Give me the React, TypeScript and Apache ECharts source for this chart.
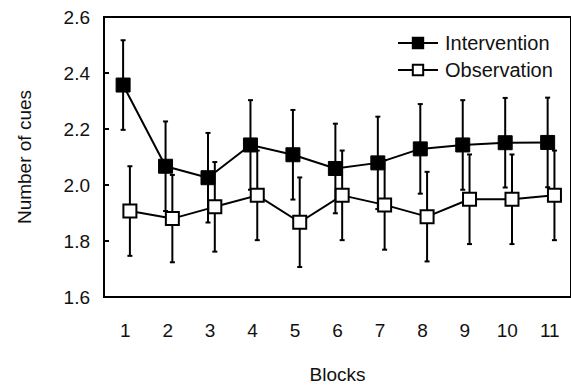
import React, { useEffect, useRef } from "react";
import * as echarts from "echarts";

const blocks = ["1", "2", "3", "4", "5", "6", "7", "8", "9", "10", "11"];
const interventionMean = [2.357, 2.067, 2.026, 2.143, 2.108, 2.059, 2.079, 2.129, 2.143, 2.151, 2.152];
const interventionErr = [0.16, 0.16, 0.16, 0.16, 0.16, 0.16, 0.165, 0.16, 0.16, 0.16, 0.16];
const observationMean = [1.907, 1.88, 1.922, 1.963, 1.867, 1.963, 1.929, 1.887, 1.949, 1.949, 1.963];
const observationErr = [0.16, 0.156, 0.16, 0.16, 0.16, 0.16, 0.16, 0.16, 0.16, 0.16, 0.16];
const yTicks = { min: 1.6, max: 2.6, interval: 0.2 };

const FONT = "Liberation Sans, Arial, Helvetica, sans-serif";
const INT_OFFSET = -0.05;
const OBS_OFFSET = 0.11;

function errorSeries(means: number[], errs: number[], offset: number, z: number) {
  const data = means.map((m, i) => [i + 1 + offset, m - errs[i], m + errs[i]]);
  return {
    type: "custom",
    xAxisIndex: 1,
    yAxisIndex: 0,
    z,
    silent: true,
    data,
    renderItem: (params: any, api: any) => {
      const x = api.value(0);
      const lo = api.coord([x, api.value(1)]);
      const hi = api.coord([x, api.value(2)]);
      const cap = 2.5;
      const st = { stroke: "#000", lineWidth: 2 };
      return {
        type: "group",
        children: [
          { type: "line", shape: { x1: lo[0], y1: lo[1], x2: hi[0], y2: hi[1] }, style: st },
          { type: "line", shape: { x1: lo[0] - cap, y1: lo[1], x2: lo[0] + cap, y2: lo[1] }, style: st },
          { type: "line", shape: { x1: hi[0] - cap, y1: hi[1], x2: hi[0] + cap, y2: hi[1] }, style: st },
        ],
      };
    },
  };
}

export default function App() {
  const ref = useRef<HTMLDivElement>(null);
  useEffect(() => {
    document.body.style.margin = "0";
    if (!ref.current) return;
    const chart = echarts.init(ref.current, null, { renderer: "svg" });
    const textStyle = { fontFamily: FONT, fontSize: 19, color: "#111" };
    chart.setOption({
      animation: false,
      backgroundColor: "#fff",
      textStyle: { fontFamily: FONT },
      grid: {
        left: 104,
        top: 17,
        width: 468.6,
        height: 287,
        show: true,
        borderColor: "#000",
        borderWidth: 2,
        backgroundColor: "transparent",
      },
      legend: {
        data: ["Intervention", "Observation"],
        orient: "vertical",
        left: 392,
        top: 28,
        itemWidth: 40,
        itemHeight: 13,
        itemGap: 7,
        textStyle: { ...textStyle, fontSize: 20, padding: [0, 0, 0, 2] },
      },
      xAxis: [
        {
          type: "category",
          data: blocks,
          boundaryGap: true,
          name: "Blocks",
          nameLocation: "middle",
          nameGap: 68,
          nameTextStyle: { ...textStyle },
          axisLine: { lineStyle: { color: "#000", width: 2 } },
          axisTick: { alignWithLabel: true, inside: true, length: 5, lineStyle: { color: "#000", width: 2 } },
          axisLabel: { ...textStyle, margin: 24 },
          splitLine: { show: false },
        },
        { type: "value", min: 0.5, max: 11.5, show: false },
      ],
      yAxis: {
        type: "value",
        min: yTicks.min,
        max: yTicks.max,
        interval: yTicks.interval,
        name: "Number of cues",
        nameLocation: "middle",
        nameRotate: 90,
        nameGap: 70,
        nameTextStyle: { ...textStyle },
        axisLine: { show: true, lineStyle: { color: "#000", width: 2 } },
        axisTick: { show: true, inside: true, length: 5, lineStyle: { color: "#000", width: 2 } },
        axisLabel: { ...textStyle, margin: 14, formatter: (v: number) => v.toFixed(1) },
        splitLine: { show: false },
      },
      series: [
        errorSeries(interventionMean, interventionErr, INT_OFFSET, 2),
        errorSeries(observationMean, observationErr, OBS_OFFSET, 2),
        {
          name: "Intervention",
          type: "line",
          xAxisIndex: 1,
          z: 4,
          data: interventionMean.map((v, i) => [i + 1 + INT_OFFSET, v]),
          symbol: "rect",
          symbolSize: 14,
          lineStyle: { color: "#000", width: 2 },
          itemStyle: { color: "#000", borderColor: "#000", borderWidth: 1 },
        },
        {
          name: "Observation",
          type: "line",
          xAxisIndex: 1,
          z: 5,
          data: observationMean.map((v, i) => [i + 1 + OBS_OFFSET, v]),
          symbol: "rect",
          symbolSize: 13,
          lineStyle: { color: "#000", width: 2 },
          itemStyle: { color: "#fff", borderColor: "#000", borderWidth: 2 },
        },
      ],
    });
    return () => chart.dispose();
  }, []);
  return <div ref={ref} style={{ width: 571, height: 389 }} />;
}
